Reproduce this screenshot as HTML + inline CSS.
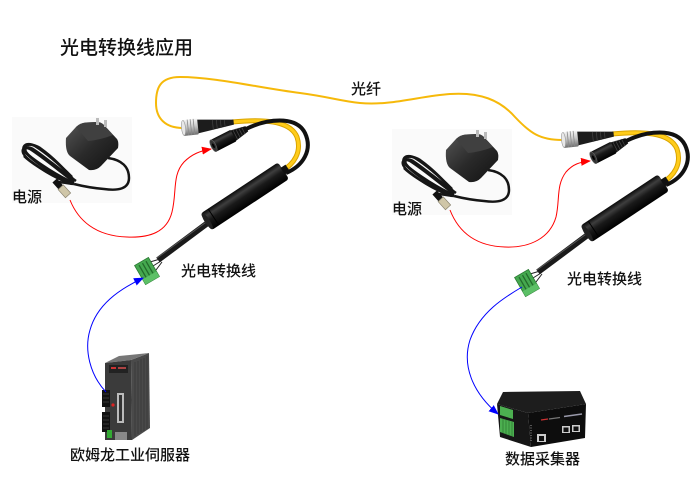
<!DOCTYPE html>
<html><head><meta charset="utf-8">
<style>
html,body{margin:0;padding:0;background:#fff;}
svg{display:block;}
text{font-family:"Liberation Sans","Noto Sans CJK SC",sans-serif;fill:#111;font-weight:500;}
</style></head><body>
<svg width="700" height="495" viewBox="0 0 700 495" xmlns="http://www.w3.org/2000/svg">
<defs>
 <linearGradient id="cyl" x1="0" y1="0" x2="0" y2="1">
  <stop offset="0" stop-color="#0a0a0a"/>
  <stop offset="0.25" stop-color="#3e3e3e"/>
  <stop offset="0.5" stop-color="#1a1a1a"/>
  <stop offset="1" stop-color="#000"/>
 </linearGradient>
 <linearGradient id="silver" x1="0" y1="0" x2="0" y2="1">
  <stop offset="0" stop-color="#f6f6f6"/>
  <stop offset="0.45" stop-color="#cacaca"/>
  <stop offset="1" stop-color="#6e6e6e"/>
 </linearGradient>
 <linearGradient id="adapt" x1="0" y1="0" x2="1" y2="1">
  <stop offset="0" stop-color="#555"/>
  <stop offset="0.5" stop-color="#2a2a2a"/>
  <stop offset="1" stop-color="#111"/>
 </linearGradient>
 <marker id="arR" markerWidth="10" markerHeight="8" refX="9" refY="4" orient="auto" markerUnits="userSpaceOnUse">
  <path d="M0,0 L10,4 L0,8 Z" fill="#ff0000"/>
 </marker>
 <marker id="arB" markerWidth="10" markerHeight="8" refX="9" refY="4" orient="auto" markerUnits="userSpaceOnUse">
  <path d="M0,0 L10,4 L0,8 Z" fill="#0000ff"/>
 </marker>
</defs>

<!-- Title -->
<text x="60" y="54" font-size="19">光电转换线应用</text>

<!-- ===== Adapter (left) ===== -->
<g id="adapter">
 <rect x="12" y="117" width="120" height="86" fill="#fafafa"/>
 <g fill="none" stroke="#161616" stroke-width="2.5">
  <path d="M74,183 C58,176 38,163 27,154 C19,147 26,141 35,146 C48,154 62,167 72,177"/>
  <path d="M70,182 C52,174 33,161 25,151 C21,145 30,142 40,148 C54,158 64,169 73,179"/>
  <path d="M76,181 C60,170 44,156 33,149 C26,145 22,149 29,156 C40,166 55,175 68,181"/>
  <path d="M72,184 C54,178 36,166 27,158 C20,152 22,145 30,149 C44,158 58,170 74,182"/>
  <path d="M62,180 C45,172 30,162 24,156"/>
  <path d="M74,184 C66,183 60,182 56,182"/>
 </g>
 <path d="M108,158 C122,160 129,167 129,178 C129,189 118,191 104,189 C92,188 82,186 74,184" fill="none" stroke="#151515" stroke-width="2.5"/>
 <path d="M66,138 L76,127 Q80,123 86,122.5 L97,122 Q101,122 104,125 L117,139 Q119,142 118,148 L101,166 Q96,171 89,170 L70,156 Q65,152 66,138 Z" fill="url(#adapt)"/>
 <path d="M76,127 Q80,123 86,122.5 L97,122 Q101,122 104,125 L113,135 Q100,140 88,141 Z" fill="#404040"/>
 <rect x="96" y="118" width="3" height="7" fill="#bbb"/>
 <rect x="104" y="120" width="3" height="7" fill="#bbb"/>
 <g transform="translate(56,182) rotate(48)">
  <rect x="-2" y="-3" width="9" height="6" fill="#111"/>
  <rect x="7" y="-3.5" width="11" height="7" fill="#cfc6a8" stroke="#8a8470" stroke-width="0.7"/>
 </g>
</g>
<use href="#adapter" transform="translate(380,12)"/>

<!-- ===== Fiber ===== -->
<path d="M183,128 C165,128 156,118 156,103 C156,88 160,77 180,77 C215,77 260,88 300,93 C330,97 340,101 360,103 C390,106 420,96 450,94 C480,92 500,100 515,117 C530,133 540,140 562,140" fill="none" stroke="#f6b90a" stroke-width="2"/>

<!-- ===== Converter (left) ===== -->
<g id="conv">
 <path d="M232,122 C262,119 290,120 297,137 C302,152 294,164 282,171" fill="none" stroke="#d9a400" stroke-width="5"/>
 <path d="M232,122 C262,119 290,120 297,137 C302,152 294,164 282,171" fill="none" stroke="#ffcc1a" stroke-width="3"/>
 <path d="M246,129 C266,119 296,115 305,133 C313,150 303,166 286,173" fill="none" stroke="#111" stroke-width="4"/>
 <path d="M209,222 L158,260" stroke="#1a1a1a" stroke-width="6"/>
 <path d="M209,220 L157,258" stroke="#555" stroke-width="1"/>
 <path d="M160,259 L150,262 M161,261 L153,266 M162,262 L156,270" stroke="#222" stroke-width="1"/>
 <g transform="translate(147,271) rotate(-30)">
  <rect x="-8" y="-11" width="16" height="22" fill="#45a84f" stroke="#2c7a34" stroke-width="0.8"/>
  <path d="M-4,-9 V9 M0,-9 V9 M4,-9 V9" stroke="#236b2b" stroke-width="1.3"/>
  <rect x="-8" y="5" width="16" height="6" fill="#5cc066"/>
 </g>
 <g transform="translate(206,222) rotate(-33.5)">
  <rect x="0" y="-10" width="93" height="20" rx="3" fill="url(#cyl)"/>
  <line x1="9" y1="-9.5" x2="9" y2="9.5" stroke="#000" stroke-width="1"/>
  <ellipse cx="1.5" cy="0" rx="2.5" ry="9.5" fill="#222"/>
  <rect x="92" y="-4" width="6" height="8" fill="#111"/>
 </g>
 <g transform="translate(183,128) rotate(-6)">
  <path d="M14,-7 L51,-3 L51,2 L14,7 Z" fill="#1c1c1c"/>
  <path d="M30,-5V5 M34,-4.5V4.5 M38,-4V4 M42,-3.5V3.5" stroke="#444" stroke-width="0.7"/>
  <rect x="0" y="-8" width="15" height="16" rx="1" fill="url(#silver)"/>
  <path d="M5,-8V8 M8,-8V8 M11,-8V8" stroke="#8a8a8a" stroke-width="0.8"/>
  <ellipse cx="0.5" cy="0" rx="2" ry="7.5" fill="#e8e8e8" stroke="#999" stroke-width="0.6"/>
 </g>
 <g transform="translate(213,146) rotate(-27)">
  <path d="M22,-6 L38,-3 L38,3 L22,6 Z" fill="#111"/>
  <path d="M25,-5.5V5.5 M28,-5V5 M31,-4.5V4.5 M34,-4V4" stroke="#444" stroke-width="0.8"/>
  <rect x="0" y="-6.5" width="23" height="13" rx="1" fill="url(#cyl)"/>
  <ellipse cx="0.5" cy="0" rx="2.5" ry="6.5" fill="#333" stroke="#666" stroke-width="0.6"/>
  <ellipse cx="0.5" cy="0" rx="1" ry="2.5" fill="#000"/>
 </g>
</g>
<use href="#conv" transform="translate(380,12)"/>

<!-- ===== Servo ===== -->
<g>
 <polygon points="131,360 149,353 150,428 132,440" fill="#4a4a4a"/>
 <path d="M135,362V436 M138,361V434 M141,359V432 M144,358V431 M147,356V429" stroke="#3a3a3a" stroke-width="1"/>
 <polygon points="105,363 119,356 149,353 131,360" fill="#777"/>
 <polygon points="105,363 131,360 132,440 105,440" fill="#3b3b3b"/>
 <rect x="109" y="365" width="19" height="8" fill="#222"/>
 <rect x="111" y="367" width="5" height="2" fill="#c33"/>
 <rect x="118" y="367" width="8" height="2" fill="#a44"/>
 <rect x="102" y="390" width="8" height="17" fill="#111"/>
 <rect x="102" y="412" width="8" height="20" fill="#111"/>
 <path d="M103,394H109 M103,398H109 M103,402H109 M103,416H109 M103,420H109 M103,424H109 M103,428H109" stroke="#444" stroke-width="0.8"/>
 <circle cx="113" cy="405" r="1.6" fill="#d22"/>
 <rect x="117" y="393" width="7" height="30" fill="#bbb"/>
 <rect x="119" y="395" width="3" height="26" fill="#333"/>
 <rect x="107" y="430" width="5" height="8" fill="#3a3"/>
 <rect x="115" y="432" width="12" height="8" fill="#888"/>
</g>

<!-- ===== Data collector ===== -->
<g>
 <polygon points="497,404 503,392 580,391 586,404 528,413" fill="#1d1d1d"/>
 <polygon points="528,413 586,404 585,438 531,447" fill="#0d0d0d"/>
 <polygon points="497,404 528,413 531,447 500,437" fill="#161616"/>
 <polygon points="500,406 513,410 513,419 500,415" fill="#4caf50"/>
 <polygon points="500,418 514,422 514,437 500,432" fill="#4caf50"/>
 <path d="M503,419V433 M506,420V434 M509,421V435 M512,422V436" stroke="#2e7d32" stroke-width="0.8"/>
 <line x1="541" y1="420" x2="548" y2="419" stroke="#c33" stroke-width="1.2"/>
 <line x1="549" y1="419" x2="560" y2="417.5" stroke="#777" stroke-width="1.2"/>
 <line x1="564" y1="416.5" x2="582" y2="414" stroke="#99a" stroke-width="1.5"/>
 <rect x="537" y="434" width="9" height="8" fill="#ccc"/>
 <rect x="539" y="436" width="5" height="5" fill="#111"/>
 <rect x="562" y="426" width="8" height="7" fill="#ccc"/>
 <rect x="563.5" y="427.5" width="5" height="4.5" fill="#111"/>
 <rect x="572" y="425" width="8" height="7" fill="#ccc"/>
 <rect x="573.5" y="426.5" width="5" height="4.5" fill="#111"/>
 <path d="M531,425V441" stroke="#555" stroke-width="2" stroke-dasharray="1,1.5"/>
</g>

<!-- ===== Arrows ===== -->
<path d="M70,200 C78,220 95,236 127,237 C150,238 167,232 172,212 C177,192 172,175 184,162 C192,154 200,151 211,149" fill="none" stroke="#ff0000" stroke-width="1" marker-end="url(#arR)"/>
<path d="M450,210 C457,228 472,246 505,247 C530,248 550,238 556,217 C560,200 556,185 566,172 C573,164 580,162 590,161" fill="none" stroke="#ff0000" stroke-width="1" marker-end="url(#arR)"/>
<path d="M106,392 C90,375 84,350 90,330 C97,305 118,290 143,278" fill="none" stroke="#0000ff" stroke-width="1" marker-end="url(#arB)"/>
<path d="M522,287 C505,297 480,312 470,340 C462,365 472,392 498,414" fill="none" stroke="#0000ff" stroke-width="1" marker-end="url(#arB)"/>

<!-- ===== Labels ===== -->
<text x="351" y="94" font-size="15">光纤</text>
<text x="12" y="202" font-size="15">电源</text>
<text x="392" y="214" font-size="15">电源</text>
<text x="181" y="276" font-size="15">光电转换线</text>
<text x="567" y="284" font-size="15">光电转换线</text>
<text x="70" y="460" font-size="15">欧姆龙工业伺服器</text>
<text x="505" y="464" font-size="15">数据采集器</text>
</svg>
</body></html>
